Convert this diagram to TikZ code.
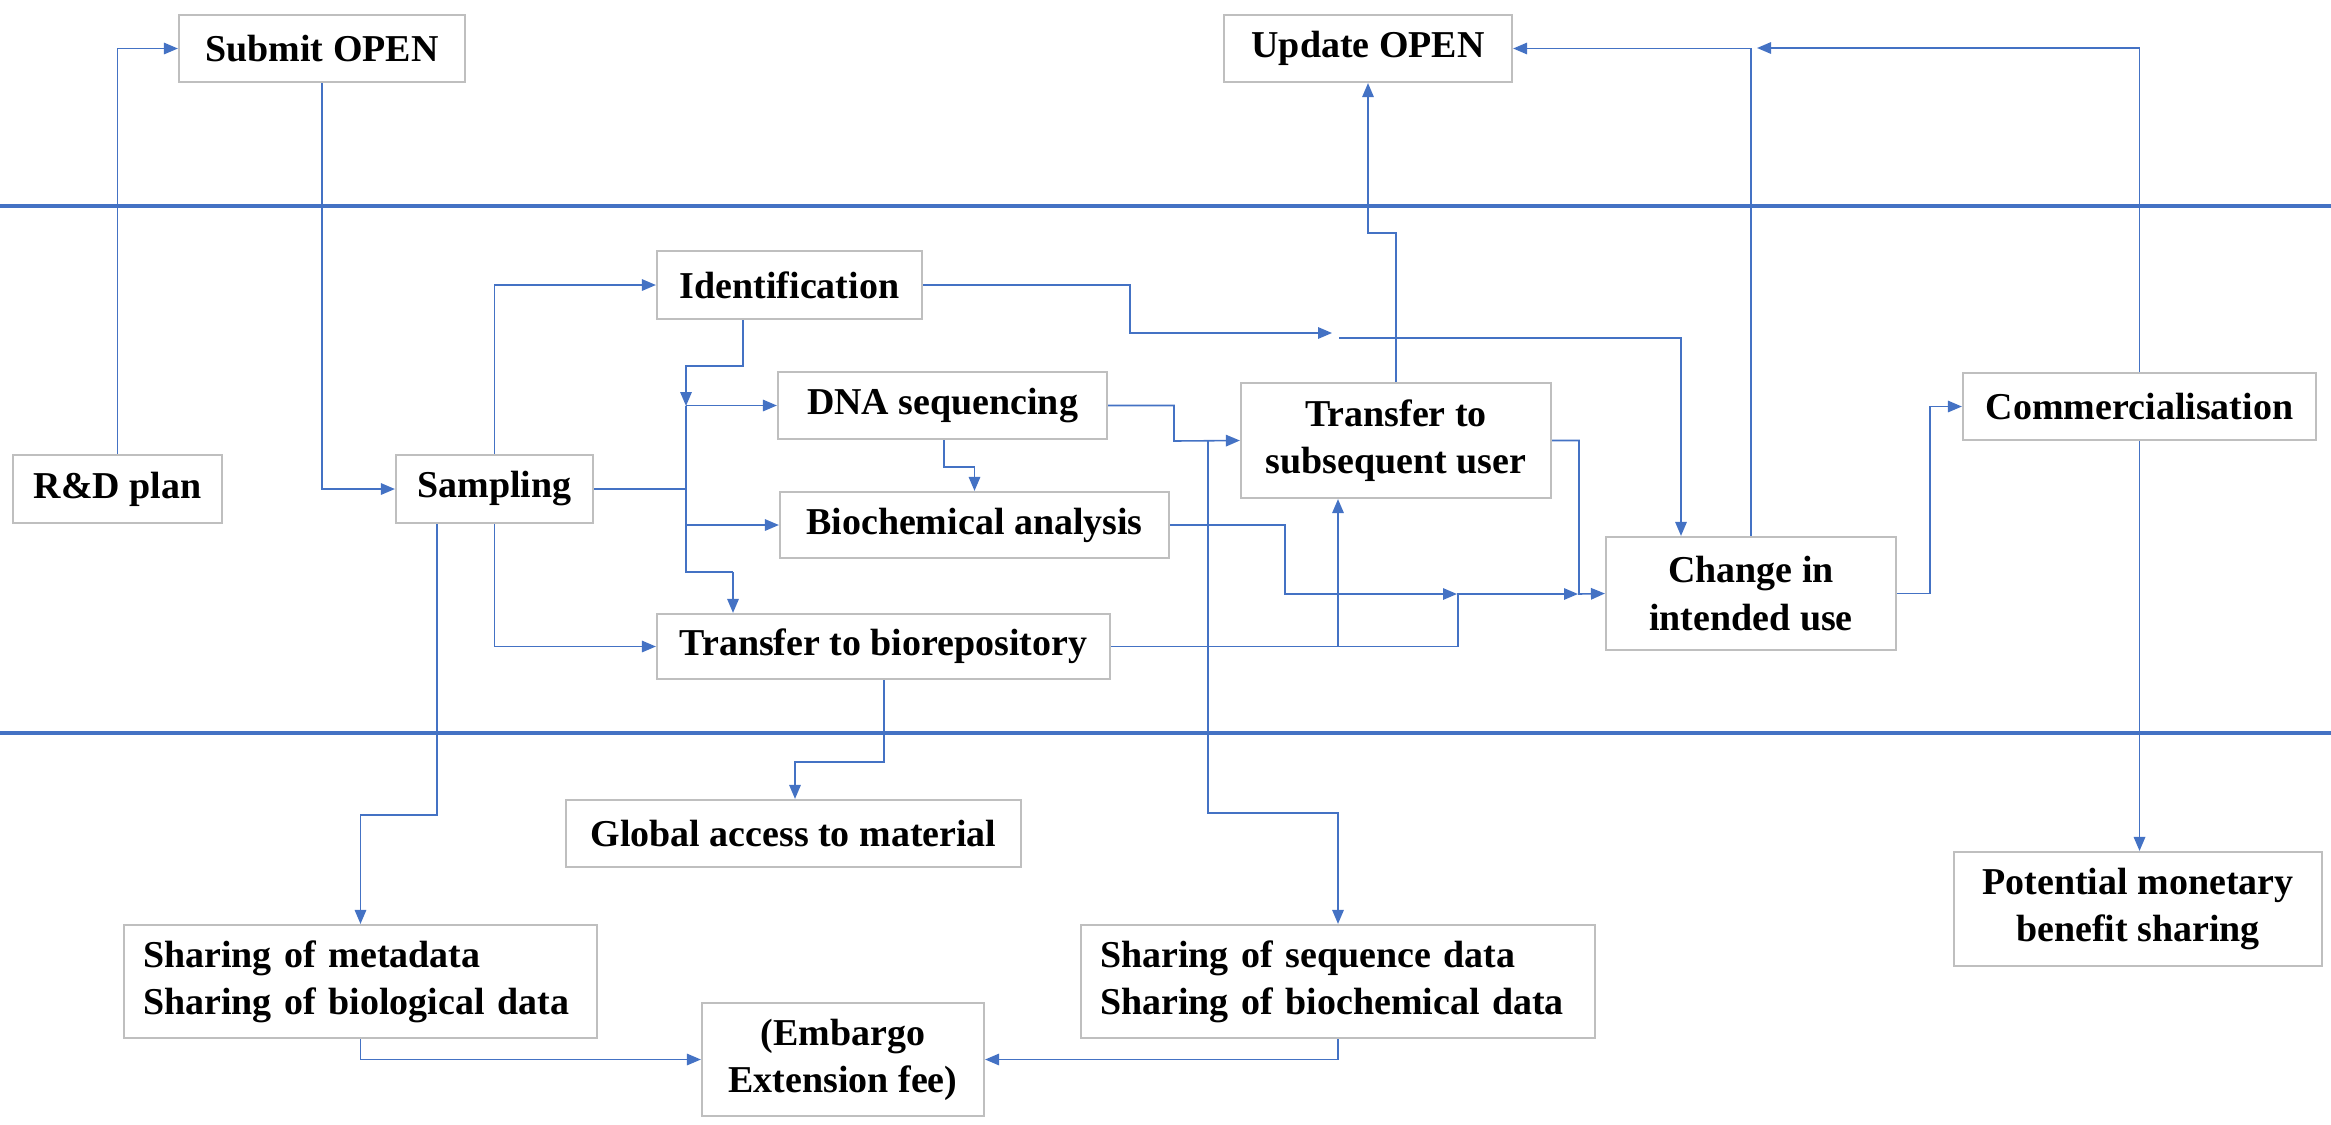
\documentclass[tikz,border=0pt]{standalone}
\usepackage{fontspec}
\setmainfont{Liberation Serif}
\usetikzlibrary{arrows.meta}
\definecolor{connblue}{HTML}{4472C4}
\definecolor{boxgray}{HTML}{BFBFBF}
\begin{document}
\begin{tikzpicture}[x=0.1mm,y=-0.1mm,
  box/.style={draw=boxgray, line width=0.22mm, fill=white, inner sep=0pt, align=center,
    font=\fontsize{10.8pt}{13.4pt}\selectfont\bfseries},
  link/.style={draw=connblue, line width=0.45pt},
  arr/.style={link, -{Triangle[length=1.4mm,width=1.15mm]}},
  rulebar/.style={draw=connblue, line width=0.35mm}]
\useasboundingbox (0,0) rectangle (2331,1124);

% swim-lane rules
\draw[rulebar] (0,206) -- (2331,206);
\draw[rulebar] (0,733) -- (2331,733);

% nodes
\node[box, minimum width=28.6mm, minimum height=6.7mm] (submit) at (322,48.5) {Submit OPEN};
\node[box, minimum width=28.8mm, minimum height=6.7mm] (update) at (1368,48.5) {Update OPEN};
\node[box, minimum width=20.9mm, minimum height=6.8mm] (rd) at (117.5,489) {R\&D plan};
\node[box, minimum width=19.7mm, minimum height=6.8mm] (sampling) at (494.5,489) {Sampling};
\node[box, minimum width=26.5mm, minimum height=6.8mm] (ident) at (789.5,285) {Identification};
\node[box, minimum width=32.9mm, minimum height=6.7mm] (dna) at (942.5,405.5) {DNA sequencing};
\node[box, minimum width=38.9mm, minimum height=6.6mm] (biochem) at (974.5,525) {Biochemical analysis};
\node[box, minimum width=45.3mm, minimum height=6.5mm] (biorepo) at (883.5,646.5) {Transfer to biorepository};
\node[box, minimum width=31mm, minimum height=11.5mm] (tsu) at (1396,440.5) {Transfer to\\subsequent user};
\node[box, minimum width=29mm, minimum height=11.3mm] (change) at (1751,593.5) {Change in\\intended use};
\node[box, minimum width=35.3mm, minimum height=6.7mm] (comm) at (2139.5,406.5) {Commercialisation};
\node[box, minimum width=45.5mm, minimum height=6.7mm] (global) at (793.5,833.5) {Global access to material};
\node[box, minimum height=11.3mm, text width=43.5mm, inner xsep=1.9mm, align=left] (meta) at (360.5,981.5) {Sharing of metadata\\Sharing of biological data};
\node[box, minimum height=11.3mm, text width=47.6mm, inner xsep=1.9mm, align=left] (seq) at (1338,981.5) {Sharing of sequence data\\Sharing of biochemical data};
\node[box, minimum width=28.2mm, minimum height=11.3mm] (embargo) at (843,1059.5) {(Embargo\\Extension fee)};
\node[box, minimum width=36.8mm, minimum height=11.4mm] (potential) at (2138,909) {Potential monetary\\benefit sharing};

% helper coordinates
\coordinate (c437) at (437,0);
\coordinate (c686) at (686,0);
\coordinate (c733) at (733,0);
\coordinate (c743) at (743,0);
\coordinate (c795) at (795,0);
\coordinate (c884) at (884,0);
\coordinate (c944) at (944,0);
\coordinate (c1338) at (1338,0);
\coordinate (c1681) at (1681,0);
\coordinate (j1) at (1208,441);
\coordinate (idA) at (1332,333);
\coordinate (idB) at (1339,338);

% connectors
\draw[arr] (rd.north) |- (submit.west);
\draw[arr] (submit.south) |- (sampling.west);
\draw[arr] (sampling.north) |- (ident.west);
\draw[arr] (sampling.south) |- (biorepo.west);
\draw[arr] (sampling.south -| c437) -- (437,815) -| (meta.north);
\draw[link] (sampling.east) -- (686,489);
\draw[arr] (ident.south -| c743) -- (743,366) -- (686,366) -- (686,406);
\draw[arr] (dna.west -| c686) -- (dna.west);
\draw[link] (686,406) -- (686,572) -- (733,572);
\draw[arr] (733,572) -- (biorepo.north -| c733);
\draw[arr] (biochem.west -| c686) -- (biochem.west);
\draw[arr] (dna.south -| c944) -- (944,467) -| (biochem.north);
\draw[arr] (dna.east) -| (1174,441) -- (tsu.west);
\draw[arr] (j1) |- (1338,813) -- (seq.north);
\draw[arr] (biochem.east) -| (1285,594) -- (1457,594);
\draw[arr] (biorepo.east) -| (1458,594) -- (1578,594);
\draw[arr] (biorepo.east -| c1338) -- (tsu.south -| c1338);
\draw[arr] (tsu.east) -| (1579,594) -- (change.west);
\draw[arr] (ident.east) -| (1130,333) -- (idA);
\draw[arr] (idB) -| (change.north -| c1681);
\draw[arr] (tsu.north) |- (1368,233) -- (update.south);
\draw[arr] (change.north) |- (update.east);
\draw[arr] (comm.north) |- (1757,48);
\draw[arr] (change.east) -- ++(33,0) |- (comm.west);
\draw[arr] (comm.south) -- (comm.south |- potential.north);
\draw[arr] (biorepo.south -| c884) -- (884,762) -| (global.north -| c795);
\draw[arr] (meta.south) |- (embargo.west);
\draw[arr] (seq.south) |- (embargo.east);
\end{tikzpicture}
\end{document}
